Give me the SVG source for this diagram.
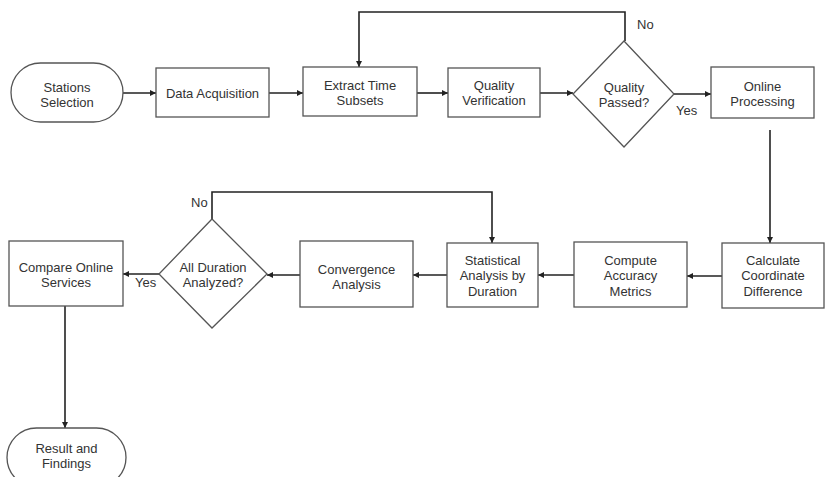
<svg xmlns="http://www.w3.org/2000/svg" width="826" height="477" viewBox="0 0 826 477">
<defs>
<marker id="ah" markerWidth="7" markerHeight="7" refX="6" refY="3.5" orient="auto" markerUnits="userSpaceOnUse">
<path d="M0,0.5 L6,3.5 L0,6.5 z" fill="#222"/>
</marker>
<style>
.box{fill:#fff;stroke:#555;stroke-width:1.3}
.t{font-family:"Liberation Sans",Arial,sans-serif;font-size:13px;fill:#333;text-anchor:middle}
.lbl{font-family:"Liberation Sans",Arial,sans-serif;font-size:13px;fill:#333}
.c{fill:none;stroke:#222;stroke-width:1.6}
.ca{fill:none;stroke:#222;stroke-width:1.6;marker-end:url(#ah)}
</style>
</defs>
<rect width="826" height="477" fill="#fff"/>
<g id="connectors">
<line class="ca" x1="123" y1="93" x2="156" y2="93"/>
<line class="ca" x1="269" y1="93" x2="303" y2="93"/>
<line class="ca" x1="417" y1="93" x2="448" y2="93"/>
<line class="ca" x1="540" y1="93" x2="573" y2="93"/>
<line class="ca" x1="674" y1="94" x2="711" y2="94"/>
<polyline class="ca" points="625,41 625,12 359,12 359,67"/>
<line class="ca" x1="770" y1="130" x2="770" y2="243"/>
<line class="ca" x1="722" y1="276" x2="687" y2="276"/>
<line class="ca" x1="574" y1="275" x2="538" y2="275"/>
<line class="ca" x1="447" y1="275" x2="413" y2="275"/>
<line class="ca" x1="300" y1="275" x2="267" y2="275"/>
<polyline class="ca" points="212,220 212,192 492,192 492,243"/>
<line class="ca" x1="159" y1="274" x2="123" y2="274"/>
<line class="ca" x1="65" y1="306" x2="65" y2="428"/>
<text class="lbl" x="637" y="29">No</text>
<text class="lbl" x="676" y="115">Yes</text>
<text class="lbl" x="191" y="207">No</text>
<text class="lbl" x="135" y="287">Yes</text>
</g>
<g id="stations">
<rect class="box" x="11" y="63" width="112" height="59" rx="29.5"/>
<text class="t" x="67" y="91.5">Stations</text>
<text class="t" x="67" y="106.5">Selection</text>
</g>
<g id="data-acquisition">
<rect class="box" x="156" y="68" width="113" height="49"/>
<text class="t" x="212.5" y="97.5">Data Acquisition</text>
</g>
<g id="extract">
<rect class="box" x="303" y="67" width="114" height="49"/>
<text class="t" x="360" y="89.5">Extract Time</text>
<text class="t" x="360" y="104.5">Subsets</text>
</g>
<g id="quality-verification">
<rect class="box" x="448" y="68" width="92" height="49"/>
<text class="t" x="494" y="89.5">Quality</text>
<text class="t" x="494" y="104.5">Verification</text>
</g>
<g id="quality-passed">
<polygon class="box" points="624,41 674,94 624,147 573,94"/>
<text class="t" x="624" y="91.5">Quality</text>
<text class="t" x="624" y="106.5">Passed?</text>
</g>
<g id="online-processing">
<rect class="box" x="711" y="67" width="103" height="51"/>
<text class="t" x="762.5" y="90.5">Online</text>
<text class="t" x="762.5" y="105.5">Processing</text>
</g>
<g id="calculate">
<rect class="box" x="722" y="243" width="102" height="65"/>
<text class="t" x="773" y="264.5">Calculate</text>
<text class="t" x="773" y="280">Coordinate</text>
<text class="t" x="773" y="295.5">Difference</text>
</g>
<g id="compute">
<rect class="box" x="574" y="242" width="113" height="65"/>
<text class="t" x="630.5" y="264.5">Compute</text>
<text class="t" x="630.5" y="280">Accuracy</text>
<text class="t" x="630.5" y="295.5">Metrics</text>
</g>
<g id="statistical">
<rect class="box" x="447" y="243" width="91" height="64"/>
<text class="t" x="492.5" y="264.5">Statistical</text>
<text class="t" x="492.5" y="280">Analysis by</text>
<text class="t" x="492.5" y="295.5">Duration</text>
</g>
<g id="convergence">
<rect class="box" x="300" y="241" width="113" height="66"/>
<text class="t" x="356.5" y="273.5">Convergence</text>
<text class="t" x="356.5" y="288.5">Analysis</text>
</g>
<g id="all-duration">
<polygon class="box" points="212,219 267,274 212,328 159,274"/>
<text class="t" x="213" y="271.5">All Duration</text>
<text class="t" x="213" y="286.5">Analyzed?</text>
</g>
<g id="compare">
<rect class="box" x="9" y="241" width="114" height="65"/>
<text class="t" x="66" y="271.5">Compare Online</text>
<text class="t" x="66" y="286.5">Services</text>
</g>
<g id="result">
<rect class="box" x="7" y="428" width="119" height="59" rx="29.5"/>
<text class="t" x="66.5" y="452.5">Result and</text>
<text class="t" x="66.5" y="467.5">Findings</text>
</g>
</svg>
